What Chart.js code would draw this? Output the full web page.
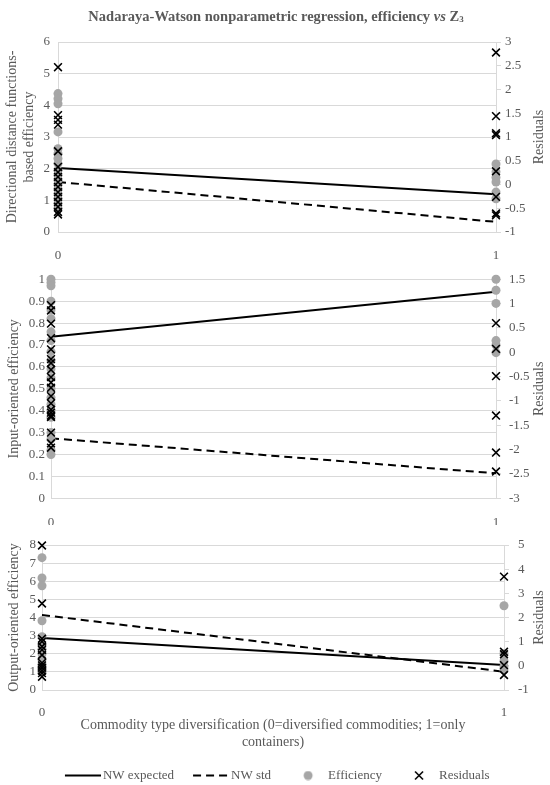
<!DOCTYPE html>
<html>
<head>
<meta charset="utf-8">
<script src="https://cdn.jsdelivr.net/npm/chart.js@4.4.1/dist/chart.umd.min.js"></script>
<style>
  html, body { margin: 0; padding: 0; background: #fff; overflow: hidden; }
  body { width: 550px; height: 785px; position: relative; }
  canvas { position: absolute; left: 0; }
  #titulo {
    position: absolute; top: 8px; left: 0; width: 552px; text-align: center;
    font: bold 14.5px "Liberation Serif", serif; color: #595959; line-height: 17px;
  }
  #titulo sub { font-size: 9px; vertical-align: -1px; }
</style>
</head>
<body>
<canvas id="g1" width="550" height="262" style="top:0"></canvas>
<canvas id="g2" width="550" height="263" style="top:262px"></canvas>
<canvas id="g3" width="550" height="267" style="top:525px"></canvas>
<div id="titulo">Nadaraya-Watson nonparametric regression, efficiency <i>vs</i> Z<sub>3</sub></div>
<script>
// valores del eje x (Z3)
const zValues = [0, 1];

// panel 1: eficiencia DDF
const ddfEficienciaCero = [4.37, 4.21, 4.05, 3.16, 2.63, 2.47, 2.32, 2.16, 1.95, 1.8, 1.65, 1.5, 1.35, 1.2, 1.05, 0.9, 0.75];
const ddfEficienciaUno = [2.15, 1.9, 1.72, 1.58, 1.26, 1.05];
const ddfResidCero = [2.47, 1.46, 1.36, 1.26, 0.7, 0.37, 0.26, 0.16, 0.05, -0.05, -0.16, -0.26, -0.37, -0.47, -0.58, -0.63];
const ddfResidUno = [2.78, 1.44, 1.08, 1.04, 0.28, -0.26, -0.61, -0.65];
const ddfEsperado = [2.02, 1.19];
const ddfStd = [1.58, 0.32];
const ddfTicksIzq = [0, 1, 2, 3, 4, 5, 6];
const ddfTicksDer = [-1, -0.5, 0, 0.5, 1, 1.5, 2, 2.5, 3];

// panel 2: eficiencia orientada a inputs
const inEficienciaCero = [1.0, 0.985, 0.97, 0.9, 0.86, 0.82, 0.76, 0.72, 0.67, 0.63, 0.59, 0.55, 0.5, 0.46, 0.43, 0.4, 0.37, 0.3, 0.27, 0.22, 0.2];
const inEficienciaUno = [1.0, 0.95, 0.89, 0.72, 0.7, 0.665];
const inResidCero = [0.97, 0.86, 0.59, 0.29, 0.06, -0.14, -0.22, -0.36, -0.51, -0.62, -0.73, -0.9, -1.05, -1.18, -1.24, -1.3, -1.33, -1.65, -1.87, -1.96];
const inResidUno = [0.6, 0.07, -0.49, -1.3, -2.06, -2.45];
const inEsperado = [0.738, 0.943];
const inStd = [0.274, 0.114];
const inTicksIzq = [0, 0.1, 0.2, 0.3, 0.4, 0.5, 0.6, 0.7, 0.8, 0.9, 1];
const inTicksDer = [-3, -2.5, -2, -1.5, -1, -0.5, 0, 0.5, 1, 1.5];

// panel 3: eficiencia orientada a outputs
const outEficienciaCero = [7.3, 6.18, 5.75, 3.82, 2.94, 2.5, 2.25, 2.0, 1.7, 1.4, 1.25, 1.1, 1.0];
const outEficienciaUno = [4.65, 2.0, 1.6, 1.3, 1.1];
const outResidCero = [4.98, 2.58, 1.12, 1.0, 0.8, 0.66, 0.45, 0.12, 0.02, -0.08, -0.2, -0.3, -0.45];
const outResidUno = [3.69, 0.58, 0.48, 0.03, -0.38];
const outEsperado = [2.87, 1.38];
const outStd = [4.14, 1.01];
const outTicksIzq = [0, 1, 2, 3, 4, 5, 6, 7, 8];
const outTicksDer = [-1, 0, 1, 2, 3, 4, 5];

const colorTexto = '#595959';
const colorGrid = '#d9d9d9';
const gris = '#a6a6a6';
const fuente = '"Liberation Serif", serif';

// titulo del eje derecho, girado como en Excel (de abajo hacia arriba)
const tituloDerecho = {
  id: 'tituloDerecho',
  afterDraw(chart, args, opts) {
    const ctx = chart.ctx;
    const area = chart.chartArea;
    ctx.save();
    ctx.translate(opts.x, (area.top + area.bottom) / 2);
    ctx.rotate(-Math.PI / 2);
    ctx.font = '14px ' + fuente;
    ctx.fillStyle = colorTexto;
    ctx.textAlign = 'center';
    ctx.textBaseline = 'middle';
    ctx.fillText(opts.text, 0, 0);
    ctx.restore();
  }
};

// iconos de la leyenda (45 px de ancho, centrados en la caja de 36 px)
function icono(w, h, dibujar) {
  const c = document.createElement('canvas');
  c.width = w; c.height = h;
  dibujar(c.getContext('2d'));
  return c;
}
const iconos = [
  icono(45, 4, ctx => { ctx.fillStyle = '#000'; ctx.fillRect(9, 1, 36, 2); }),
  icono(45, 4, ctx => {
    ctx.strokeStyle = '#000'; ctx.lineWidth = 2; ctx.setLineDash([8, 5]);
    ctx.beginPath(); ctx.moveTo(9, 2); ctx.lineTo(45, 2); ctx.stroke();
  }),
  icono(45, 10, ctx => { ctx.fillStyle = gris; ctx.beginPath(); ctx.arc(27, 5, 4.5, 0, Math.PI * 2); ctx.fill(); }),
  icono(45, 11, ctx => {
    ctx.strokeStyle = '#000'; ctx.lineWidth = 1.6; ctx.beginPath();
    ctx.moveTo(23, 1.5); ctx.lineTo(31, 9.5); ctx.moveTo(31, 1.5); ctx.lineTo(23, 9.5); ctx.stroke();
  })
];

function armarPuntos(cero, uno) {
  return cero.map(v => ({ x: zValues[0], y: v })).concat(uno.map(v => ({ x: zValues[1], y: v })));
}
function armarLinea(vals) {
  return zValues.map((z, i) => ({ x: z, y: vals[i] }));
}
function ponerTicks(lista) {
  return function(scale) { scale.ticks = lista.map(v => ({ value: v })); };
}

function crearPanel(id, p) {
  const conLeyenda = !!p.leyenda;
  return new Chart(document.getElementById(id), {
    type: 'scatter',
    data: {
      datasets: [
        { label: 'NW expected', data: armarLinea(p.esperado), showLine: true, borderColor: '#000', borderWidth: 2,
          pointRadius: 0, yAxisID: 'y', order: 4, clip: false },
        { label: 'NW std', data: armarLinea(p.std), showLine: true, borderColor: '#000', borderWidth: 2,
          borderDash: [8, 5], pointRadius: 0, yAxisID: 'y', order: 3, clip: false },
        { label: 'Efficiency', data: armarPuntos(p.efCero, p.efUno), pointStyle: 'circle', pointRadius: 4.5,
          backgroundColor: gris, borderColor: gris, borderWidth: 0, yAxisID: 'y', order: 2, clip: false },
        { label: 'Residuals', data: armarPuntos(p.resCero, p.resUno), pointStyle: 'crossRot', pointRadius: 5.5,
          borderColor: '#000', borderWidth: 1.6, yAxisID: 'y1', order: 1, clip: false }
      ]
    },
    options: {
      responsive: false,
      animation: false,
      events: [],
      layout: { padding: { top: p.arriba, left: 0, right: 0, bottom: 0 } },
      scales: {
        x: {
          type: 'linear', min: zValues[0], max: zValues[1],
          afterBuildTicks: ponerTicks(zValues),
          afterFit: s => { s.height = p.altoX; },
          grid: { display: false },
          border: { display: false },
          ticks: { autoSkip: false, color: colorTexto, font: { family: fuente, size: 13 }, padding: p.padX, callback: v => String(v) },
          title: {
            display: !!p.tituloX, text: p.tituloX || '', color: colorTexto,
            font: { family: fuente, size: 14, lineHeight: 1.2 }, padding: { top: 0, bottom: 4.1 }
          }
        },
        y: {
          position: 'left', min: p.ticksIzq[0], max: p.ticksIzq[p.ticksIzq.length - 1],
          afterBuildTicks: ponerTicks(p.ticksIzq),
          afterFit: s => { s.width = p.anchoIzq; },
          grid: { color: colorGrid, drawTicks: false },
          border: { color: colorGrid },
          ticks: { autoSkip: false, color: colorTexto, font: { family: fuente, size: 13 }, padding: p.padIzq, callback: v => String(v) },
          title: {
            display: true, text: p.tituloIzq, color: colorTexto,
            font: { family: fuente, size: 14, lineHeight: 1.2 }, padding: { top: p.padTituloIzq, bottom: 0 }
          }
        },
        y1: {
          position: 'right', min: p.ticksDer[0], max: p.ticksDer[p.ticksDer.length - 1],
          afterBuildTicks: ponerTicks(p.ticksDer),
          afterFit: s => { s.width = p.anchoDer; },
          grid: { color: colorGrid, drawOnChartArea: false, drawTicks: true, tickLength: 5 },
          border: { color: colorGrid },
          ticks: { autoSkip: false, color: colorTexto, font: { family: fuente, size: 13 }, padding: p.padDer, callback: v => String(v) }
        }
      },
      plugins: {
        tooltip: { enabled: false },
        tituloDerecho: { text: 'Residuals', x: 539 },
        legend: {
          display: conLeyenda,
          position: 'bottom',
          labels: {
            usePointStyle: true,
            pointStyleWidth: 36,
            boxHeight: 7,
            padding: 14.5,
            color: colorTexto,
            font: { family: fuente, size: 13 },
            generateLabels: chart => chart.data.datasets.map((ds, i) => ({
              text: ds.label, datasetIndex: i, pointStyle: iconos[i], fontColor: colorTexto,
              fillStyle: 'rgba(0,0,0,0)', strokeStyle: 'rgba(0,0,0,0)', lineWidth: 0, hidden: false
            }))
          }
        }
      }
    },
    plugins: [tituloDerecho]
  });
}

crearPanel('g1', {
  efCero: ddfEficienciaCero, efUno: ddfEficienciaUno, resCero: ddfResidCero, resUno: ddfResidUno,
  esperado: ddfEsperado, std: ddfStd, ticksIzq: ddfTicksIzq, ticksDer: ddfTicksDer,
  tituloIzq: ['Directional distance functions-', 'based efficiency'],
  arriba: 42, anchoIzq: 58, anchoDer: 54, altoX: 30, padX: 8, padIzq: 8, padDer: 4, padTituloIzq: 4
});

crearPanel('g2', {
  efCero: inEficienciaCero, efUno: inEficienciaUno, resCero: inResidCero, resUno: inResidUno,
  esperado: inEsperado, std: inStd, ticksIzq: inTicksIzq, ticksDer: inTicksDer,
  tituloIzq: 'Input-oriented efficiency',
  arriba: 17.3, anchoIzq: 51, anchoDer: 54, altoX: 26.7, padX: 8, padIzq: 6, padDer: 8, padTituloIzq: 5.6
});

crearPanel('g3', {
  efCero: outEficienciaCero, efUno: outEficienciaUno, resCero: outResidCero, resUno: outResidUno,
  esperado: outEsperado, std: outStd, ticksIzq: outTicksIzq, ticksDer: outTicksDer,
  tituloIzq: 'Output-oriented efficiency',
  tituloX: ['Commodity type diversification (0=diversified commodities; 1=only', 'containers)'],
  leyenda: true,
  arriba: 20, anchoIzq: 42, anchoDer: 46, altoX: 64.5, padX: 7, padIzq: 6, padDer: 9, padTituloIzq: 5.6
});
</script>
</body>
</html>
